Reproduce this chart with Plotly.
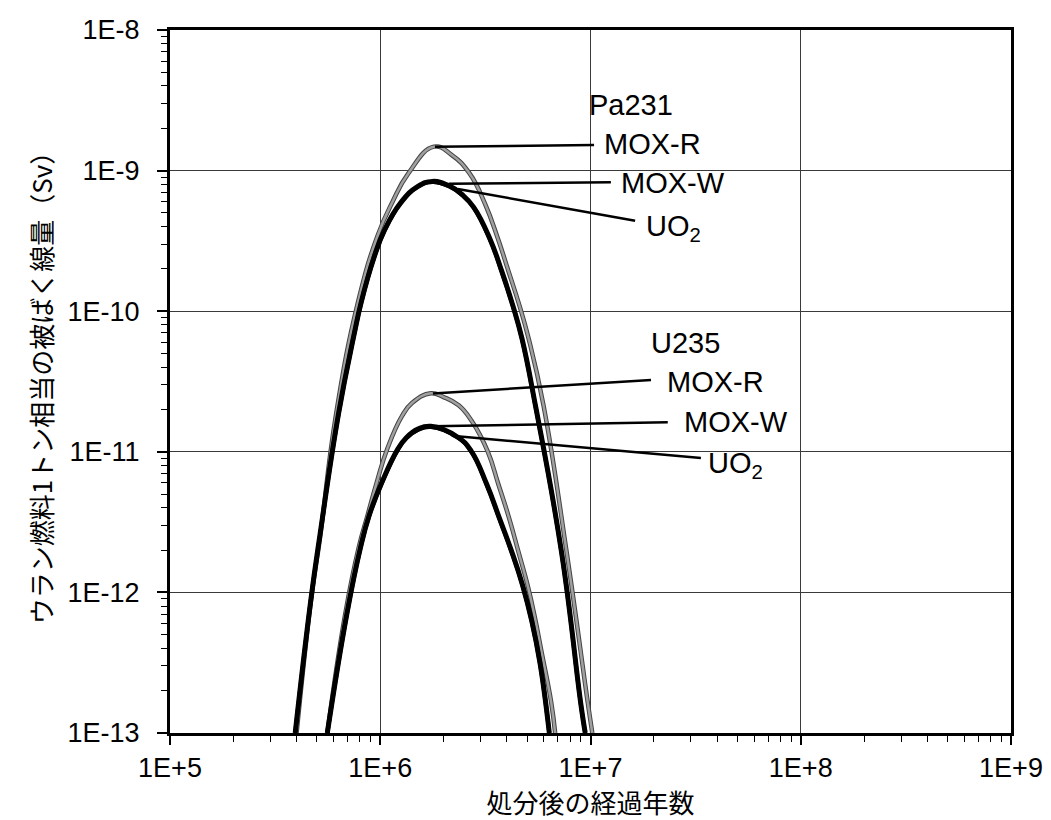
import math
import plotly.graph_objects as go

# ---- data ----
pa_moxr_x = [4.0e5, 4.68e5, 5.18e5, 6.14e5, 7.85e5, 9.73e5, 1.14e6, 1.36e6, 1.80e6, 2.19e6, 2.66e6, 3.16e6, 3.62e6, 4.08e6, 4.59e6, 5.08e6, 5.98e6, 7.71e6, 9.72e6, 1.02e7]
pa_moxr_y = [1.0e-13, 8.7e-13, 2.5e-12, 1.78e-11, 1.17e-10, 3.47e-10, 5.93e-10, 9.55e-10, 1.48e-9, 1.29e-9, 9.55e-10, 5.74e-10, 3.31e-10, 1.91e-10, 1.10e-10, 6.38e-11, 2.13e-11, 1.91e-12, 1.62e-13, 1.0e-13]

pa_moxw_x = [3.94e5, 4.67e5, 5.18e5, 6.35e5, 7.50e5, 8.13e5, 9.33e5, 1.05e6, 1.25e6, 1.51e6, 1.77e6, 2.14e6, 2.45e6, 2.78e6, 3.31e6, 3.79e6, 4.27e6, 4.72e6, 5.47e6, 7.29e6, 8.99e6, 9.44e6]
pa_moxw_y = [1.0e-13, 8.7e-13, 2.63e-12, 1.91e-11, 6.76e-11, 1.17e-10, 2.40e-10, 3.80e-10, 5.9e-10, 7.73e-10, 8.38e-10, 7.76e-10, 6.76e-10, 5.50e-10, 3.32e-10, 1.91e-10, 1.10e-10, 6.4e-11, 2.14e-11, 1.91e-12, 1.62e-13, 1.0e-13]

pa_uo2_x = [3.94e5, 4.67e5, 5.18e5, 6.35e5, 7.50e5, 8.13e5, 9.33e5, 1.05e6, 1.25e6, 1.51e6, 1.77e6, 2.14e6, 2.45e6, 2.78e6, 3.31e6, 3.79e6, 4.27e6, 4.72e6, 5.47e6, 7.29e6, 8.99e6, 9.44e6]
pa_uo2_y = [1.0e-13, 8.6e-13, 2.6e-12, 1.89e-11, 6.70e-11, 1.16e-10, 2.38e-10, 3.77e-10, 5.85e-10, 7.66e-10, 8.30e-10, 7.69e-10, 6.70e-10, 5.45e-10, 3.29e-10, 1.89e-10, 1.09e-10, 6.34e-11, 2.12e-11, 1.89e-12, 1.61e-13, 1.0e-13]

u_moxr_x = [5.60e5, 6.81e5, 7.89e5, 8.71e5, 9.64e5, 1.08e6, 1.27e6, 1.42e6, 1.74e6, 2.00e6, 2.36e6, 2.72e6, 3.24e6, 3.65e6, 4.10e6, 4.54e6, 5.02e6, 5.45e6, 5.81e6, 6.50e6, 6.79e6]
u_moxr_y = [1.0e-13, 6.98e-13, 2.07e-12, 3.55e-12, 6.11e-12, 1.05e-11, 1.80e-11, 2.23e-11, 2.61e-11, 2.45e-11, 2.14e-11, 1.66e-11, 1.01e-11, 5.85e-12, 3.38e-12, 1.95e-12, 1.13e-12, 6.53e-13, 3.98e-13, 1.66e-13, 1.0e-13]

u_moxw_x = [5.60e5, 6.93e5, 8.04e5, 8.87e5, 1.02e6, 1.21e6, 1.33e6, 1.51e6, 1.74e6, 2.34e6, 2.70e6, 3.21e6, 3.68e6, 4.22e6, 4.75e6, 5.25e6, 5.75e6, 6.37e6]
u_moxw_y = [1.0e-13, 6.97e-13, 2.06e-12, 3.55e-12, 6.10e-12, 1.04e-11, 1.26e-11, 1.45e-11, 1.52e-11, 1.27e-11, 1.02e-11, 5.87e-12, 3.40e-12, 1.95e-12, 1.13e-12, 6.31e-13, 3.16e-13, 1.0e-13]

u_uo2_x = [5.60e5, 6.93e5, 8.04e5, 8.87e5, 1.02e6, 1.21e6, 1.33e6, 1.51e6, 1.74e6, 2.34e6, 2.70e6, 3.21e6, 3.68e6, 4.22e6, 4.75e6, 5.25e6, 5.75e6, 6.37e6]
u_uo2_y = [1.0e-13, 6.9e-13, 2.04e-12, 3.52e-12, 6.04e-12, 1.03e-11, 1.25e-11, 1.43e-11, 1.50e-11, 1.26e-11, 1.01e-11, 5.82e-12, 3.37e-12, 1.93e-12, 1.12e-12, 6.26e-13, 3.13e-13, 1.0e-13]

# leader lines: from curve to label
leader_x0 = [1.82e6, 2.12e6, 2.34e6, 1.78e6, 1.76e6, 2.19e6]
leader_y0 = [1.48e-9, 8.05e-10, 7.4e-10, 2.6e-11, 1.52e-11, 1.30e-11]
leader_x1 = [1.04e7, 1.25e7, 1.63e7, 1.94e7, 2.33e7, 3.35e7]
leader_y1 = [1.52e-9, 8.26e-10, 4.4e-10, 3.24e-11, 1.62e-11, 9.05e-12]

label_text = ["Pa231", "MOX-R", "MOX-W", "UO<sub>2</sub>", "U235", "MOX-R", "MOX-W", "UO<sub>2</sub>"]
label_x = [9.6e6, 1.14e7, 1.36e7, 1.79e7, 1.90e7, 2.27e7, 2.73e7, 3.55e7]
label_y = [2.93e-9, 1.54e-9, 8.1e-10, 3.9e-10, 5.94e-11, 3.12e-11, 1.64e-11, 8.0e-12]

x_tickvals = [1e5, 1e6, 1e7, 1e8, 1e9]
x_ticktext = ["1E+5", "1E+6", "1E+7", "1E+8", "1E+9"]
y_tickvals = [1e-13, 1e-12, 1e-11, 1e-10, 1e-9, 1e-8]
y_ticktext = ["1E-13", "1E-12", "1E-11", "1E-10", "1E-9", "1E-8"]

x_title = "処分後の経過年数"
y_title = "ウラン燃料1トン相当の被ばく線量（Sv）"

# ---- figure ----
fig = go.Figure()

GRAY = "#a0a0a0"
SM = 1.3

def gray_curve(x, y):
    fig.add_trace(go.Scatter(x=x, y=y, mode="lines", line=dict(color="#444444", width=4.5, shape="spline", smoothing=SM), hoverinfo="skip"))
    fig.add_trace(go.Scatter(x=x, y=y, mode="lines", line=dict(color=GRAY, width=2.5, shape="spline", smoothing=SM), hoverinfo="skip"))

def black_curve(x, y, w):
    fig.add_trace(go.Scatter(x=x, y=y, mode="lines", line=dict(color="black", width=w, shape="spline", smoothing=SM), hoverinfo="skip"))

gray_curve(pa_moxr_x, pa_moxr_y)
gray_curve(u_moxr_x, u_moxr_y)
black_curve(pa_moxw_x, pa_moxw_y, 5)
black_curve(pa_uo2_x, pa_uo2_y, 4)
black_curve(u_moxw_x, u_moxw_y, 5)
black_curve(u_uo2_x, u_uo2_y, 4)

for i in range(len(leader_x0)):
    fig.add_trace(go.Scatter(x=[leader_x0[i], leader_x1[i]], y=[leader_y0[i], leader_y1[i]],
                             mode="lines", line=dict(color="black", width=2.5), hoverinfo="skip"))

LABEL_FONT = dict(family="Liberation Sans, Arial, sans-serif", size=29, color="black")
for t, lx, ly in zip(label_text, label_x, label_y):
    fig.add_annotation(x=math.log10(lx), y=math.log10(ly), xref="x", yref="y", text=t,
                       showarrow=False, xanchor="left", yanchor="middle", font=LABEL_FONT)

TICK_FONT = dict(family="Liberation Sans, Arial, sans-serif", size=27, color="black")
TITLE_FONT = dict(family="Noto Sans CJK JP, sans-serif", size=26, color="black")

fig.update_xaxes(type="log", range=[5, 9], tickvals=x_tickvals, ticktext=x_ticktext,
                 showline=True, linewidth=3, linecolor="black", mirror=True,
                 ticks="outside", ticklen=9, tickwidth=1.5, tickcolor="black",
                 showgrid=True, gridcolor="#3a3a3a", gridwidth=1, zeroline=False,
                 minor=dict(ticks="outside", ticklen=6, tickwidth=1.2, tickcolor="black", dtick="D1", showgrid=False),
                 tickfont=TICK_FONT, ticklabelstandoff=0,
                 title=dict(text=x_title, font=TITLE_FONT, standoff=2))
fig.update_yaxes(type="log", range=[-13, -8], tickvals=y_tickvals, ticktext=y_ticktext,
                 showline=True, linewidth=3, linecolor="black", mirror=True,
                 ticks="outside", ticklen=10, tickwidth=1.5, tickcolor="black",
                 showgrid=True, gridcolor="#3a3a3a", gridwidth=1, zeroline=False,
                 minor=dict(ticks="outside", ticklen=6, tickwidth=1.2, tickcolor="black", dtick="D1", showgrid=False),
                 tickfont=TICK_FONT, ticklabelstandoff=12,
                 title=dict(text=y_title, font=TITLE_FONT, standoff=8))

fig.update_layout(width=1051, height=820, showlegend=False,
                  paper_bgcolor="white", plot_bgcolor="white",
                  margin=dict(l=162, r=48, t=22, b=95, autoexpand=False))

fig.write_html("out.html")
